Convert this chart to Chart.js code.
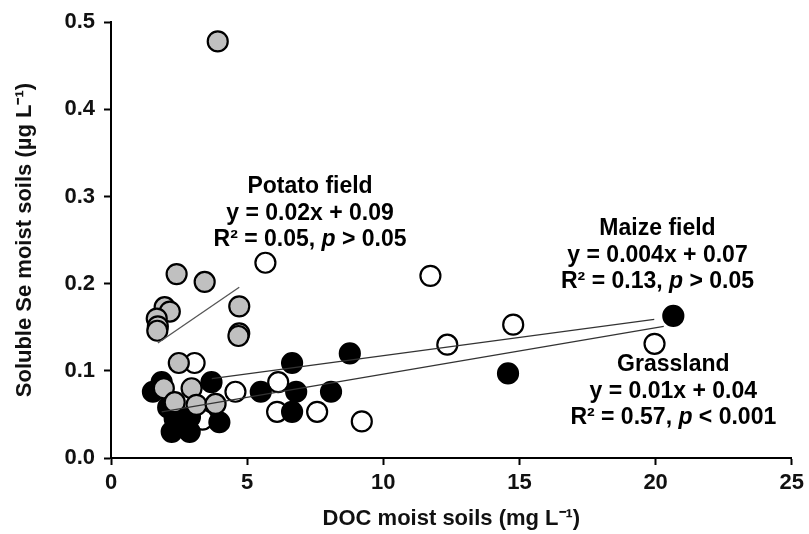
<!DOCTYPE html>
<html>
<head>
<meta charset="utf-8">
<script src="https://cdn.jsdelivr.net/npm/chart.js@4.4.1/dist/chart.umd.min.js"></script>
<style>
  html, body { margin: 0; background: #fff; }
  #wrap { width: 809px; height: 534px; }
</style>
</head>
<body>
<div id="wrap"><canvas id="seChart" width="809" height="534"></canvas></div>
<script>
// DOC (mg L-1) vs soluble Se (ug L-1), moist soils
const potatoX = [3.92, 2.41, 3.44, 4.71, 4.71, 4.68, 1.97, 2.16, 1.68, 1.72, 1.70, 2.49, 1.94, 2.96, 2.34, 3.14, 3.84];
const potatoY = [0.478, 0.211, 0.202, 0.174, 0.143, 0.140, 0.173, 0.168, 0.160, 0.151, 0.146, 0.109, 0.080, 0.080, 0.064, 0.061, 0.062];

const grassX = [1.86, 1.54, 3.69, 3.98, 2.23, 2.89, 2.34, 2.90, 2.10, 5.50, 6.65, 6.80, 6.65, 8.08, 8.77, 14.58, 20.65];
const grassY = [0.087, 0.076, 0.087, 0.041, 0.030, 0.030, 0.045, 0.047, 0.058, 0.076, 0.109, 0.076, 0.053, 0.076, 0.120, 0.097, 0.163];

const maizeX = [5.67, 11.73, 12.35, 14.77, 19.96, 3.07, 4.57, 6.14, 6.10, 7.57, 9.21, 3.36];
const maizeY = [0.224, 0.209, 0.130, 0.153, 0.131, 0.109, 0.076, 0.087, 0.053, 0.053, 0.042, 0.044];

// fitted lines, end points
const potatoFitX = [1.72, 4.71];
const potatoFitY = [0.132, 0.196];
const maizeFitX = [3.7, 19.95];
const maizeFitY = [0.091, 0.159];
const grassFitX = [1.86, 20.3];
const grassFitY = [0.053, 0.151];

const xTicks = [0, 5, 10, 15, 20, 25];
const yTicks = [0.0, 0.1, 0.2, 0.3, 0.4, 0.5];

// notes: text lines, "|" toggles italic
const potatoNote = ["Potato field", "y = 0.02x + 0.09", "R² = 0.05, |p| > 0.05"];
const maizeNote = ["Maize field", "y = 0.004x + 0.07", "R² = 0.13, |p| > 0.05"];
const grassNote = ["Grassland", "y = 0.01x + 0.04", "R² = 0.57, |p| < 0.001"];
const potatoNoteAt = [7.31, 0.311];
const maizeNoteAt = [20.07, 0.263];
const grassNoteAt = [20.65, 0.107];

const FONT = '"Liberation Sans", Arial, sans-serif';
const toPts = (xs, ys) => xs.map((v, i) => ({ x: v, y: ys[i] }));

const notes = [
  { at: potatoNoteAt, lines: potatoNote },
  { at: maizeNoteAt, lines: maizeNote },
  { at: grassNoteAt, lines: grassNote }
];

const notePlugin = {
  id: "notes",
  afterDraw(chart) {
    const { ctx, scales: { x, y } } = chart;
    ctx.save();
    ctx.fillStyle = "#000";
    ctx.textBaseline = "middle";
    ctx.textAlign = "left";
    notes.forEach(n => {
      const cx = x.getPixelForValue(n.at[0]);
      let cy = y.getPixelForValue(n.at[1]);
      n.lines.forEach(line => {
        const segs = line.split("|");
        const fonts = segs.map((s, i) => (i % 2 ? "italic " : "") + "700 23px " + FONT);
        let w = 0;
        segs.forEach((s, i) => { ctx.font = fonts[i]; w += ctx.measureText(s).width; });
        let px = cx - w / 2;
        segs.forEach((s, i) => {
          ctx.font = fonts[i];
          ctx.fillText(s, px, cy);
          px += ctx.measureText(s).width;
        });
        cy += 26.5;
      });
    });
    ctx.restore();
  }
};

const tickFont = { family: FONT, size: 22, weight: "bold" };

new Chart(document.getElementById("seChart"), {
  type: "scatter",
  data: {
    datasets: [
      { type: "line", label: "Potato fit", data: toPts(potatoFitX, potatoFitY), borderColor: "#555", borderWidth: 1.3, pointRadius: 0, order: 0 },
      { type: "line", label: "Maize fit", data: toPts(maizeFitX, maizeFitY), borderColor: "#333", borderWidth: 1.3, pointRadius: 0, order: 0 },
      { type: "line", label: "Grassland fit", data: toPts(grassFitX, grassFitY), borderColor: "#333", borderWidth: 1.3, pointRadius: 0, order: 0 },
      { label: "Potato field", data: toPts(potatoX, potatoY), backgroundColor: "#c0c0c0", borderColor: "#000", borderWidth: 2.2, pointRadius: 10, order: 1 },
      { label: "Grassland", data: toPts(grassX, grassY), backgroundColor: "#000", borderColor: "#000", borderWidth: 2.2, pointRadius: 10, order: 2 },
      { label: "Maize field", data: toPts(maizeX, maizeY), backgroundColor: "#fff", borderColor: "#000", borderWidth: 2.2, pointRadius: 10, order: 3 }
    ]
  },
  options: {
    responsive: false,
    animation: false,
    devicePixelRatio: 1,
    layout: { padding: { top: 22, right: 14, bottom: 0, left: 0 } },
    plugins: { legend: { display: false }, tooltip: { enabled: false } },
    scales: {
      x: {
        type: "linear",
        min: 0,
        max: 25,
        afterBuildTicks: s => { s.ticks = xTicks.map(v => ({ value: v })); },
        ticks: { color: "#111", font: tickFont, padding: 5, callback: v => String(v) },
        grid: { drawOnChartArea: false, tickLength: 7, tickColor: "#000", tickWidth: 2 },
        border: { color: "#000", width: 2 },
        title: { display: true, text: "DOC moist soils (mg L⁻¹)", color: "#111", font: tickFont, padding: { top: 0, bottom: 2 } },
        afterFit: s => { s.height = 76; }
      },
      y: {
        type: "linear",
        min: 0,
        max: 0.5,
        afterBuildTicks: s => { s.ticks = yTicks.map(v => ({ value: v })); },
        ticks: { color: "#111", font: tickFont, padding: 9, callback: v => Number(v).toFixed(1) },
        grid: { drawOnChartArea: false, tickLength: 7, tickColor: "#000", tickWidth: 2 },
        border: { color: "#000", width: 2 },
        title: { display: true, text: "Soluble Se moist soils (µg L⁻¹)", color: "#111", font: tickFont, padding: { top: 12, bottom: 0 } },
        afterFit: s => { s.width = 111; }
      }
    }
  },
  plugins: [notePlugin]
});
</script>
</body>
</html>
